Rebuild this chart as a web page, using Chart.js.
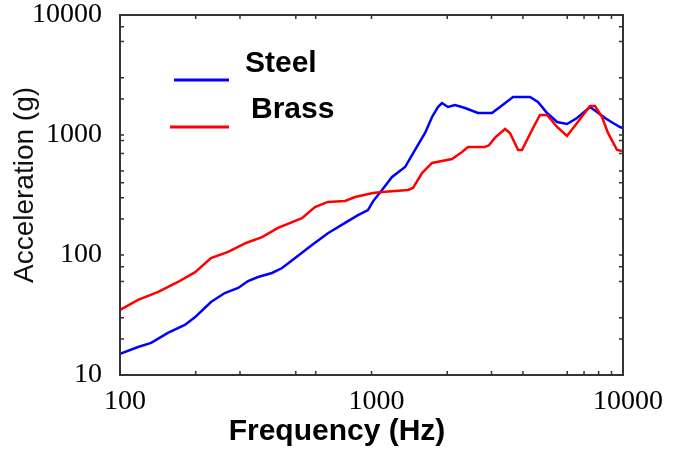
<!DOCTYPE html>
<html>
<head>
<meta charset="utf-8">
<script src="https://cdn.jsdelivr.net/npm/chart.js@4"></script>
<style>
  html, body { margin: 0; padding: 0; background: #fff; }
  canvas { display: block; }
</style>
</head>
<body>
<canvas id="grafico" width="683" height="449"></canvas>
<script>
// --- DATA ---
const steelFreq  = [100, 118, 133, 155, 181, 199, 230, 261, 295, 323, 354, 402, 441, 497, 580, 671, 785, 884, 968, 1014, 1101, 1207, 1360, 1490, 1633, 1741, 1837, 1906, 2015, 2148, 2355, 2650, 3013, 3243, 3654, 4268, 4592, 4989, 5470, 5989, 6566, 7393, 7887, 8478, 9124, 9730, 10000];
const steelAccel = [15, 17.1, 18.5, 22.4, 26.1, 30.4, 40.6, 48.2, 53.1, 60.7, 65.6, 70.8, 77.9, 94.4, 121, 152, 185, 215, 237, 280, 348, 447, 541, 750, 1040, 1413, 1711, 1848, 1711, 1778, 1679, 1525, 1525, 1711, 2074, 2074, 1884, 1525, 1283, 1235, 1386, 1711, 1555, 1386, 1259, 1166, 1143];

const brassFreq  = [100, 118, 142, 170, 199, 230, 269, 317, 367, 425, 529, 596, 671, 785, 860, 1014, 1101, 1397, 1462, 1588, 1741, 2089, 2291, 2421, 2825, 2930, 3100, 3396, 3553, 3828, 3966, 4346, 4677, 4989, 5470, 5989, 6566, 7393, 7741, 8253, 8716, 9470, 9908];
const brassAccel = [34.8, 42.2, 49.2, 59.6, 72, 94.4, 106, 126, 141, 168, 203, 251, 277, 282, 304, 329, 335, 348, 362, 482, 585, 631, 722, 794, 794, 820, 950, 1122, 1040, 750, 750, 1101, 1468, 1468, 1166, 981, 1259, 1746, 1746, 1413, 1040, 750, 736];

const xLabels = [100, 1000, 10000];
const yLabels = [10, 100, 1000, 10000];
const xTickMarks = [100, 200, 300, 500, 600, 1000, 2000, 3000, 4000, 6000, 7000, 8000, 9000, 10000];
const yTickMarks = [10, 20, 30, 60, 80, 100, 200, 300, 400, 500, 700, 900, 1000, 2000, 3000, 6000, 8000, 10000];

const puntos = (xs, ys) => xs.map((f, i) => ({ x: f, y: ys[i] }));

// --- FRAME, INWARD TICKS, TITLES AND LEGEND ---
const marcoPlugin = {
    id: 'marco',
    afterDatasetsDraw(chart) {
        const { ctx, chartArea: a, scales: { x, y } } = chart;
        ctx.save();

        ctx.strokeStyle = '#333';
        ctx.lineWidth = 2;
        ctx.strokeRect(a.left, a.top, a.right - a.left, a.bottom - a.top);

        ctx.lineWidth = 1.5;
        ctx.beginPath();
        xTickMarks.forEach(v => {
            const px = x.getPixelForValue(v);
            ctx.moveTo(px, a.bottom); ctx.lineTo(px, a.bottom - 4);
            ctx.moveTo(px, a.top); ctx.lineTo(px, a.top + 4);
        });
        yTickMarks.forEach(v => {
            const py = y.getPixelForValue(v);
            ctx.moveTo(a.left, py); ctx.lineTo(a.left + 4, py);
            ctx.moveTo(a.right, py); ctx.lineTo(a.right - 4, py);
        });
        ctx.stroke();

        // axis titles
        ctx.fillStyle = '#000';
        ctx.textAlign = 'center';
        ctx.textBaseline = 'alphabetic';
        ctx.font = 'bold 30px "Liberation Sans", Arial, sans-serif';
        ctx.fillText('Frequency (Hz)', 337, 440);

        ctx.save();
        ctx.translate(33, 185);
        ctx.rotate(-Math.PI / 2);
        ctx.fillStyle = '#111';
        ctx.font = '28px "Liberation Sans", Arial, sans-serif';
        ctx.fillText('Acceleration (g)', 0, 0);
        ctx.restore();

        // legend: line under-left of each label
        const leyenda = [
            { lx1: 174, lx2: 229, ly: 80, tx: 245, ty: 72 },
            { lx1: 170, lx2: 229, ly: 127, tx: 251, ty: 118 }
        ];
        ctx.textAlign = 'left';
        ctx.font = 'bold 30px "Liberation Sans", Arial, sans-serif';
        chart.data.datasets.forEach((ds, i) => {
            const p = leyenda[i];
            ctx.strokeStyle = ds.borderColor;
            ctx.lineWidth = 3;
            ctx.beginPath();
            ctx.moveTo(p.lx1, p.ly); ctx.lineTo(p.lx2, p.ly);
            ctx.stroke();
            ctx.fillStyle = '#000';
            ctx.fillText(ds.label, p.tx, p.ty);
        });

        ctx.restore();
    }
};

// --- CHART ---
const ctx = document.getElementById('grafico').getContext('2d');
new Chart(ctx, {
    type: 'line',
    data: {
        datasets: [
            {
                label: 'Steel',
                data: puntos(steelFreq, steelAccel),
                borderColor: '#0000ff',
                borderWidth: 2.5,
                pointRadius: 0,
                tension: 0,
                order: 2
            },
            {
                label: 'Brass',
                data: puntos(brassFreq, brassAccel),
                borderColor: '#ff0000',
                borderWidth: 2.5,
                pointRadius: 0,
                tension: 0,
                order: 1
            }
        ]
    },
    options: {
        responsive: false,
        animation: false,
        layout: { padding: { top: 15, right: 60, left: 0, bottom: 0 } },
        plugins: { legend: { display: false }, tooltip: { enabled: false } },
        scales: {
            x: {
                type: 'logarithmic',
                min: 100,
                max: 10000,
                grid: { display: false },
                border: { display: false },
                afterBuildTicks: s => { s.ticks = xLabels.map(v => ({ value: v })); },
                afterFit: s => { s.height = 74; s.paddingLeft = 0; s.paddingRight = 0; },
                ticks: {
                    autoSkip: false,
                    maxRotation: 0,
                    padding: 2,
                    labelOffset: 5,
                    color: '#000',
                    font: { family: '"Liberation Serif", "Times New Roman", serif', size: 28 },
                    callback: v => String(v)
                }
            },
            y: {
                type: 'logarithmic',
                min: 10,
                max: 10000,
                grid: { display: false },
                border: { display: false },
                afterBuildTicks: s => { s.ticks = yLabels.map(v => ({ value: v })); },
                afterFit: s => { s.width = 120; s.paddingTop = 0; s.paddingBottom = 0; },
                ticks: {
                    autoSkip: false,
                    padding: 10,
                    color: '#000',
                    font: { family: '"Liberation Serif", "Times New Roman", serif', size: 28 },
                    callback: v => String(v)
                }
            }
        }
    },
    plugins: [marcoPlugin]
});
</script>
</body>
</html>
